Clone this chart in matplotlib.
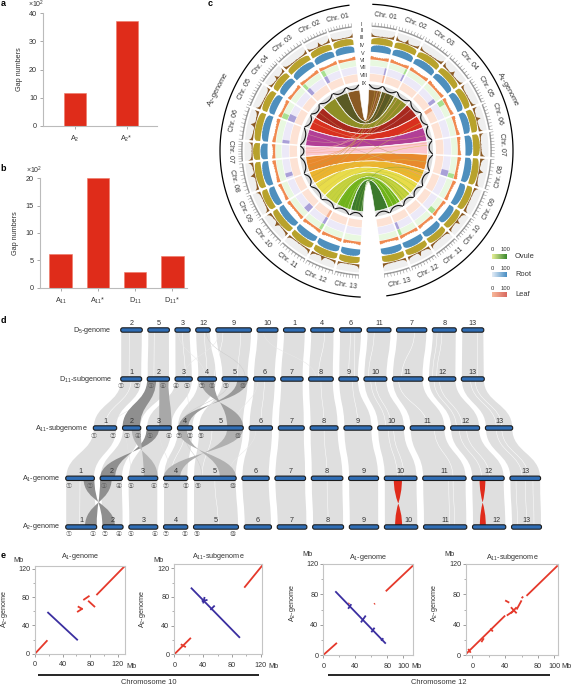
import math
import matplotlib
matplotlib.use('Agg')
import matplotlib.pyplot as plt
import numpy as np
from matplotlib.colors import LinearSegmentedColormap
from matplotlib.patches import FancyBboxPatch, PathPatch, Polygon
from matplotlib.path import Path

plt.rcParams['font.family'] = ['Liberation Sans', 'DejaVu Sans']
plt.rcParams['mathtext.fontset'] = 'custom'
plt.rcParams['mathtext.rm'] = 'Liberation Sans'
plt.rcParams['mathtext.default'] = 'regular'

W, H = 572, 685
TEXT = '#333333'
FS = 5.2

# panels a and b
a_labels = ['A$_{2}$', 'A$_{2}$*']
a_values = [11.7, 37.2]
b_labels = ['A$_{11}$', 'A$_{11}$*', 'D$_{11}$', 'D$_{11}$*']
b_values = [6.2, 20.0, 2.9, 5.8]

# panel c, chromosome spans in degrees, gap included
right_spans = [12.5, 13, 14, 14, 12.3, 13.2, 12.5, 15, 14, 12, 12, 13, 13]
left_spans = [11.8, 12.7, 14.5, 11.6, 12.5, 16, 10, 15, 12, 14.7, 13.9, 14, 12]
chrom_names = ['Chr. %02d' % i for i in range(1, 14)]
ring_names = ['I', 'II', 'III', 'IV', 'V', 'VI', 'VII', 'VIII', 'IX']
ribbon_colors = ['#8a5a24', '#5a5a25', '#8e8e26', '#a8281e', '#d9301f', '#b23f96', '#fcc8d0',
                 '#e88a2c', '#ecb42e', '#e8dc4a', '#c6d23e', '#6fb31a', '#3c7a2c']
olive_profile = [.62, .75, .82, .86, .88, .9, .92, .95, .96, .97, .95, .98, .97, .96, .98, .95, .93, .94, .9, .89, .87, .84, .76, .6]
blue_profile = [.6, .72, .8, .84, .88, .88, .93, .9, .96, .94, .97, .93, .98, .95, .92, .96, .93, .9, .91, .87, .85, .8, .72, .58]
brown_a = [.55, .3, .22, .16, .13, .12, .1, .12, .1, .08, .1, .14, .1, .09, .12, .1, .15, .12, .14, .18, .2, .25, .35, .6]
brown_b = [.6, .35, .24, .18, .13, .16, .12, .1, .08, .12, .3, .6, .25, .1, .08, .1, .12, .1, .13, .16, .18, .22, .3, .5]
orange_profile = [.5, .7, .6, .65, .5, .45, .55, .4, .5, .45, .35, .5, .4, .45, .35, .5, .4, .45, .55, .5, .6, .55, .7, .5]
wave_profile = [1.0, .7, .4, .2, .1, .05, .05, .1, .2, .4, .7, 1.0]
heat_spots = [('R', 4, 'green', 0, .3), ('R', 4, 'peach', 0, .25), ('R', 3, 'lav', .8, 1), ('R', 1, 'green', .9, 1),
              ('R', 1, 'lav', .9, 1), ('R', 0, 'lav', .9, 1), ('R', 0, 'peach', .9, 1), ('R', 7, 'lav', .7, 1),
              ('R', 7, 'green', .8, 1), ('R', 9, 'green', .7, 1), ('R', 11, 'lav', .85, 1), ('R', 11, 'green', .85, 1),
              ('L', 1, 'green', .8, 1), ('L', 1, 'lav', .8, 1), ('L', 2, 'green', .85, 1), ('L', 2, 'lav', .8, 1),
              ('L', 4, 'green', .7, 1), ('L', 4, 'lav', .6, 1), ('L', 5, 'lav', .85, 1), ('L', 7, 'lav', .7, .9),
              ('L', 9, 'lav', .7, 1), ('L', 10, 'lav', .85, 1), ('L', 10, 'peach', .85, 1), ('L', 10, 'green', .85, 1)]
chord_links = [(7, .5, 1, .3, '#e8a060'), (7, .2, 2, .6, '#e8a060'), (6, .5, 0, .7, '#f2b0a0'), (6, .2, 2, .2, '#f2b0a0'),
               (7, .8, 0, .9, '#b8a050'), (8, .4, 0, .5, '#c0a040'), (8, .7, 1, .8, '#c8b050'), (9, .3, 4, .6, '#c8b850'),
               (3, .5, 7, .5, '#c09060'), (4, .4, 5, .6, '#e0a080'), (5, .3, 8, .4, '#d0a0a0'), (5, .7, 3, .4, '#d0a0a0'),
               (10, .2, 8, .6, '#b8c840'), (10, .5, 9, .3, '#b8c840'), (10, .8, 10, .5, '#a0c030'), (11, .1, 9, .8, '#90b830'),
               (11, .5, 10, .1, '#90b830'), (11, .8, 11, .6, '#d8e0a0'), (12, .3, 10, .8, '#6aa030'), (12, .6, 8, .2, '#7aa838'),
               (12, .9, 11, .2, '#d8e8b0'), (9, .7, 7, .5, '#d8c850'), (9, .2, 6, .3, '#d8c850'), (6, .7, 6, .1, '#f0a880')]

# panel d, chromosome sizes in each row
d5_names = ['2', '5', '3', '12', '9', '10', '1', '4', '6', '11', '7', '8', '13']
d5_sizes = [21.6, 21.6, 15.3, 14.6, 35.7, 21, 21.7, 23.3, 22, 24, 30.3, 24, 22]
d11_names = [str(i) for i in range(1, 14)]
d11_sizes = [21, 22.3, 17.3, 18.7, 26, 21.7, 22.4, 24.7, 19.6, 23, 30.6, 27.3, 23]
a11_names = d11_names
a11_sizes = [23.4, 18.3, 25, 15.4, 44.7, 23.4, 26, 28, 28, 26.7, 34.6, 29, 27.3]
a1_names = d11_names
a1_sizes = [28.7, 22.3, 29.7, 24.3, 42.7, 27.3, 30.7, 31.6, 30, 32.7, 43.4, 32.4, 30.7]
a2_names = d11_names
a2_sizes = [31, 20.7, 29, 24.3, 45, 27.3, 29.7, 31, 29.4, 33.4, 43.3, 33.3, 30]
row_titles = ['D$_{5}$-genome', 'D$_{11}$-subgenome', 'A$_{11}$-subgenome', 'A$_{1}$-genome', 'A$_{2}$-genome']
circled = '①②③④⑤⑥⑦⑧⑨⑩'
# circled block numbers: which block, at which pixel column
d11_blocks = [(1, 121.3), (2, 137), (3, 150.7), (6, 163.3), (4, 176.3), (5, 187), (7, 201.7), (8, 211.7), (9, 225.7), (10, 243.3)]
a11_blocks = [(1, 94.3), (2, 112.7), (3, 126.7), (4, 138), (5, 149.7), (6, 169), (7, 179), (8, 190.3), (9, 201), (10, 238)]
a1_blocks = [(1, 69.3), (2, 89.7), (3, 103.7), (4, 119), (5, 130.7), (6, 154.3), (7, 165.7), (8, 186), (9, 197.7), (10, 232.7)]
a2_blocks = [(1, 69.3), (3, 93), (2, 105), (4, 119), (5, 130.7), (6, 154.7), (7, 165.7), (8, 185.3), (9, 196.7), (10, 233.3)]
# upper row, upper chrom, upper from/to, lower chrom, lower from/to, twisted
dark_links = [(1, 1, 0, .4, 1, 0, .95, False), (1, 1, .55, .95, 2, .5, 1, False), (1, 3, .14, .86, 4, .64, 1, True), (1, 4, .59, 1, 3, .07, .7, True),
              (2, 2, 0, .5, 1, 0, .67, True), (2, 1, .5, 1, 2, .53, 1, True), (2, 3, 0, .6, 4, .62, 1, True), (2, 4, .64, 1, 3, 0, .68, True),
              (3, 0, .62, 1, 1, 0, .61, True), (3, 1, 0, .52, 0, .62, 1, True)]
dark_link_grays = ['#8f8f8f', '#a8a8a8', '#a0a0a0', '#9a9a9a', '#8f8f8f', '#b4b4b4', '#b0b0b0', '#b0b0b0', '#8f8f8f', '#8f8f8f']
red_links = [(3, 9, .29, .54, 9, .32, .53), (3, 11, .24, .42, 11, .22, .4)]
# thin lines inside the ribbons: upper row, upper chrom, upper frac, lower chrom, lower frac, colour
slit_lines = [(0, 0, .4, 0, .4, 'w'), (0, 1, .3, 1, .3, 'w'), (0, 2, .5, 2, .6, 'w'), (0, 3, .6, 3, .5, 'w'), (0, 4, .7, 4, .6, 'w'),
              (0, 4, .2, 3, .9, 'w'), (0, 7, .6, 7, .4, 'w'), (0, 8, .5, 8, .5, 'w'), (0, 8, .7, 8, .8, 'w'), (0, 9, .3, 9, .2, 'w'),
              (0, 10, .6, 10, .3, 'w'), (0, 11, .2, 11, .15, 'w'), (0, 11, .4, 11, .3, 'w'), (0, 12, .7, 12, .7, 'w'),
              (1, 7, .5, 7, .5, 'w'), (1, 8, .7, 8, .5, 'w'), (1, 9, .3, 9, .3, 'w'), (1, 9, .5, 9, .5, 'w'), (1, 10, .2, 10, .5, 'w'),
              (1, 11, .2, 11, .2, 'w'), (1, 11, .4, 11, .4, 'w'), (1, 12, .4, 12, .4, 'w'), (1, 12, .6, 12, .6, 'w'),
              (1, 0, .5, 0, .5, 'w'), (1, 5, .5, 5, .5, 'w'),
              (2, 7, .5, 7, .5, 'w'), (2, 9, .4, 9, .4, 'w'), (2, 9, .6, 9, .6, 'w'), (2, 10, .7, 10, .7, 'w'), (2, 11, .3, 11, .3, 'w'),
              (2, 11, .55, 11, .55, 'w'), (2, 12, .4, 12, .4, 'w'), (2, 12, .6, 12, .6, 'w'), (2, 3, .5, 3, .3, 'w'), (2, 4, .3, 4, .2, 'w'),
              (3, 0, .5, 0, .45, 'w'), (3, 7, .5, 7, .5, 'w'), (3, 10, .6, 10, .6, 'w'), (3, 10, .7, 10, .72, 'w'), (3, 12, .2, 12, .2, 'w'),
              (3, 12, .5, 12, .5, 'w'), (3, 12, .75, 12, .75, 'w'), (3, 4, .5, 4, .55, 'w'),
              (0, 3, .7, 4, .9, '#cccccc'), (0, 4, .1, 2, .5, '#e8e8e8'), (0, 2, .2, 3, .4, '#e8e8e8'), (0, 5, .3, 7, .3, '#e8e8e8'),
              (1, 2, .5, 0, .8, '#e4e4e4'), (1, 2, .7, 3, .8, '#e4e4e4'), (1, 5, .2, 4, .8, '#e8e8e8'), (1, 4, .3, 3, .2, '#cccccc'),
              (2, 1, .2, 2, .1, '#e4e4e4'), (2, 2, .5, 3, .3, '#e4e4e4'), (2, 3, .4, 4, .2, '#cccccc'), (2, 5, .3, 4, .8, '#e8e8e8')]

# panel e, collinear segments as (x0, y0, x1, y1) in Mb
e1_red = [(0, 0, 18, 19), (61, 59, 69, 64), (62, 67, 69, 63), (70, 76, 79, 82), (77, 75, 87, 66), (89, 83, 130, 124)]
e1_blue = [(18, 59, 62, 19)]
e2_red = [(0, 0, 23, 23), (9, 14, 16, 10), (97, 93, 122, 124)]
e2_blue = [(23, 93, 91, 23), (40, 71, 42, 80), (38, 74, 46, 76), (50, 62, 56, 68)]
e3_red = [(0, 0, 17, 16), (78, 84, 112, 118), (63.5, 67, 64.5, 68), (31.5, 67.5, 32.5, 68.5)]
e3_blue = [(15, 84, 78, 15), (31, 61, 35, 67), (47, 43, 53, 52), (60, 30, 64, 36), (72, 19, 75, 22)]
e4_red = [(-9, 0, 40, 52), (47, 55, 54, 63), (47, 63, 54, 55), (42, 52, 50, 58), (54, 60, 60, 72), (40, 72, 45, 69),
          (66, 78, 104, 118), (-5, 8, -2, 3), (11, 17, 14, 22), (22, 35, 25, 31), (60, 75, 62, 77)]
e4_blue = []


def px_axes(fig, x0, y0, x1, y1):
    return fig.add_axes([x0 / W, 1 - y1 / H, (x1 - x0) / W, (y1 - y0) / H])


def bar_panel(fig, box, labels, values, width, xlim, ymax, step):
    ax = px_axes(fig, *box)
    ax.bar(range(len(values)), values, width=width, color='#df2c1a', edgecolor='#ee7766', linewidth=0.4)
    ax.set_xlim(*xlim)
    ax.set_ylim(0, ymax)
    ax.set_xticks(range(len(values)))
    ax.set_xticklabels(labels)
    ax.set_yticks(range(0, ymax + 1, step))
    ax.tick_params(labelsize=FS, length=2, width=0.5, color='#888888', labelcolor=TEXT, pad=2.5)
    ax.tick_params(axis='x', pad=3.5)
    ax.set_ylabel('Gap numbers', fontsize=FS, color=TEXT, labelpad=4.5)
    for s in ['top', 'right']:
        ax.spines[s].set_visible(False)
    for s in ['left', 'bottom']:
        ax.spines[s].set_color('#bbbbbb')
        ax.spines[s].set_linewidth(0.8)
    return ax


def dot_panel(fig, box, xlim, ylim, xticks, red, blue):
    ax = px_axes(fig, *box)
    for x0, y0, x1, y1 in red:
        ax.plot([x0, x1], [y0, y1], color='#e5392b', lw=1.3, solid_capstyle='butt')
    for x0, y0, x1, y1 in blue:
        ax.plot([x0, x1], [y0, y1], color='#3b2fa0', lw=1.3, solid_capstyle='butt')
    ax.set_xlim(*xlim)
    ax.set_ylim(*ylim)
    ax.set_xticks(xticks)
    ax.set_yticks([0, 40, 80, 120])
    ax.set_xticks([t + 20 for t in xticks[:-1]], minor=True)
    ax.set_yticks([20, 60, 100], minor=True)
    ax.tick_params(labelsize=FS, length=2, width=0.5, color='#777777', labelcolor=TEXT, pad=1.5)
    ax.tick_params(axis='x', pad=3.5)
    ax.tick_params(which='minor', length=1.2, width=0.4, color='#777777')
    for s in ax.spines.values():
        s.set_color('#c4c4c4')
        s.set_linewidth(0.8)
    return ax


def pol(r, deg):
    t = math.radians(deg)
    return CX + r * math.sin(t), CY - r * math.cos(t)


def band(ax, r0, r1, a0, a1, color, z=2):
    angs = np.linspace(a0, a1, 30)
    pts = [pol(r1, t) for t in angs] + [pol(r0, t) for t in angs[::-1]]
    ax.add_patch(Polygon(pts, closed=True, fc=color, ec='none', zorder=z))


def profile_band(ax, r0, depth, a0, a1, prof, color, z=3):
    angs = np.linspace(a0, a1, len(prof))
    pts = [pol(r0 + depth * p, t) for p, t in zip(prof, angs)]
    pts += [pol(r0, t) for t in angs[::-1]]
    ax.add_patch(Polygon(pts, closed=True, fc=color, ec='none', zorder=z))


def spans(start, widths, sign, gap=1.2):
    out = []
    pos = start
    for w in widths:
        out.append((pos, pos + sign * (w - gap)))
        pos += sign * w
    return out


def tangent_rot(deg):
    rot = -deg
    if 90 < deg % 360 < 270:
        rot += 180
    return rot


CX, CY = 366.5, 150.7
R_RIB = 61.0
rings = {'gray': (114, 122), 'olive': (106.7, 113.7), 'blue': (99, 106.7), 'orange': (91.3, 97),
         'green': (85, 90.8), 'lav': (77.5, 84.5), 'peach': (69.5, 77), 'wave': (61.5, 66.5)}
ring_fill = {'green': '#e8f8e0', 'lav': '#ece9f8', 'peach': '#fde2d4', 'gray': '#efefef', 'wave': '#dcdcdc'}
spot_fill = {'green': '#a8e090', 'lav': '#a9a0d8', 'peach': '#f6b090'}


def circos(ax):
    right = spans(2.5, right_spans, 1)
    left = spans(-6.9, left_spans, -1)
    for side, sp in [('R', right), ('L', left)]:
        for i, (a0, a1) in enumerate(sp):
            for key in ring_fill:
                band(ax, rings[key][0], rings[key][1], a0, a1, ring_fill[key])
            prof = brown_a if i % 2 == 0 else brown_b
            profile_band(ax, 114, 8, a0, a1, prof, '#8b5a24')
            profile_band(ax, 106.7, 7, a0, a1, olive_profile, '#b8a22c')
            profile_band(ax, 99, 7.4, a0, a1, blue_profile, '#4e8fbd')
            profile_band(ax, 91.3, 5.4, a0, a1, orange_profile, '#f08a50')
            # position track
            angs = np.linspace(a0, a1, 30)
            ax.plot(*zip(*[pol(124.6, t) for t in angs]), color='#999999', lw=1.0, zorder=3, solid_capstyle='butt')
            for t in np.linspace(a0, a1, 9):
                ax.plot(*zip(pol(124.6, t), pol(128, t)), color='#888888', lw=0.35, zorder=3)
            # wavy black contour on the grey ring
            w_angs = np.linspace(a0, a1, len(wave_profile))
            ax.plot(*zip(*[pol(62.5 + 3.5 * p, t) for p, t in zip(wave_profile, w_angs)]), color='#111111', lw=0.8, zorder=4)
            mid = (a0 + a1) / 2
            x, y = pol(136, mid)
            ax.text(x, y, chrom_names[i], fontsize=5.0, color=TEXT, ha='center', va='center',
                    rotation=tangent_rot(mid), rotation_mode='anchor', zorder=5)
    for side, i, key, f0, f1 in heat_spots:
        a0, a1 = (right if side == 'R' else left)[i]
        band(ax, rings[key][0], rings[key][1], a0 + (a1 - a0) * f0, a0 + (a1 - a0) * f1, spot_fill[key], z=3)
    # ribbons, quadratic through the centre, nearly touching at the rim
    for i in range(13):
        la0, la1 = left[i][0] + 0.4, left[i][1] - 0.4
        ra0, ra1 = right[i][0] - 0.4, right[i][1] + 0.4
        verts = [pol(R_RIB, t) for t in np.linspace(la1, la0, 14)]
        codes = [Path.MOVETO] + [Path.LINETO] * 13
        verts += [(CX, CY), pol(R_RIB, ra0)]
        codes += [Path.CURVE3, Path.CURVE3]
        verts += [pol(R_RIB, t) for t in np.linspace(ra0, ra1, 14)[1:]]
        codes += [Path.LINETO] * 13
        verts += [(CX, CY), pol(R_RIB, la1)]
        codes += [Path.CURVE3, Path.CURVE3]
        ax.add_patch(PathPatch(Path(verts, codes), fc=ribbon_colors[i], ec='white', lw=0.4, zorder=2))
    for li, lf, ri, rf, col in chord_links:
        p0 = pol(R_RIB, left[li][0] + (left[li][1] - left[li][0]) * lf)
        p1 = pol(R_RIB, right[ri][0] + (right[ri][1] - right[ri][0]) * rf)
        path = Path([p0, (CX, CY), p1], [Path.MOVETO, Path.CURVE3, Path.CURVE3])
        ax.add_patch(PathPatch(path, fc='none', ec=col, lw=0.35, alpha=0.8, zorder=3))
    # outer arcs, genome names
    ax.plot(*zip(*[pol(146.5, t) for t in np.linspace(2.5, 172, 120)]), color='k', lw=0.9, zorder=5)
    ax.plot(*zip(*[pol(146.5, t) for t in np.linspace(-6.9, -177.5, 120)]), color='k', lw=0.9, zorder=5)
    ax.text(508, 89, 'A$_{1}$-genome', fontsize=FS, color=TEXT, rotation=-62, ha='center', va='center', rotation_mode='anchor')
    ax.text(218, 90, 'A$_{2}$-genome', fontsize=FS, color=TEXT, rotation=62, ha='center', va='center', rotation_mode='anchor')
    ring_r = [126.7, 120.7, 113, 105, 97.4, 90.4, 83, 75, 67]
    for name, r in zip(ring_names, ring_r):
        x, y = pol(r, -2.2)
        ax.text(x, y, name, fontsize=4.0, color=TEXT, ha='center', va='center', zorder=6)


def legend_bar(ax, y, label, colors):
    cmap = LinearSegmentedColormap.from_list(label, colors)
    ax.imshow(np.linspace(0, 1, 40)[None, :], cmap=cmap, extent=(492.3, 507.3, y + 4.4, y), aspect='auto', zorder=3)
    ax.text(492.8, y - 4.6, '0', fontsize=4.2, color=TEXT, ha='center', va='center')
    ax.text(505.5, y - 4.6, '100', fontsize=4.2, color=TEXT, ha='center', va='center')
    ax.text(515, y + 2, label, fontsize=5.4, color=TEXT, ha='left', va='center')


def layout_row(start, sizes, gap):
    out = []
    pos = start
    for s in sizes:
        out.append((pos, pos + s))
        pos += s + gap
    return out


def s_ribbon(ax, a0, a1, y0, b0, b1, y1, color, z=1):
    ym = (y0 + y1) / 2
    verts = [(a0, y0), (a0, ym), (b0, ym), (b0, y1), (b1, y1), (b1, ym), (a1, ym), (a1, y0), (a0, y0)]
    codes = [Path.MOVETO] + [Path.CURVE4] * 3 + [Path.LINETO] + [Path.CURVE4] * 3 + [Path.CLOSEPOLY]
    ax.add_patch(PathPatch(Path(verts, codes), fc=color, ec='none', lw=0, zorder=z))


def s_line(ax, a, y0, b, y1, color, lw, z):
    ym = (y0 + y1) / 2
    path = Path([(a, y0), (a, ym), (b, ym), (b, y1)], [Path.MOVETO] + [Path.CURVE4] * 3)
    ax.add_patch(PathPatch(path, fc='none', ec=color, lw=lw, zorder=z))


def synteny(ax):
    ys = [330, 379, 428, 478.3, 527]
    starts = [120.7, 120.7, 93.3, 65.7, 65.7]
    gaps = [5.5, 5.5, 5.8, 5.7, 5.7]
    all_sizes = [d5_sizes, d11_sizes, a11_sizes, a1_sizes, a2_sizes]
    all_names = [d5_names, d11_names, a11_names, a1_names, a2_names]
    rows = [layout_row(st, sz, g) for st, sz, g in zip(starts, all_sizes, gaps)]
    for r in range(4):
        for up, lo in zip(rows[r], rows[r + 1]):
            s_ribbon(ax, up[0] + 0.5, up[1] - 0.5, ys[r], lo[0] + 0.5, lo[1] - 0.5, ys[r + 1], '#dfdfdf')
    # thin lines
    for r, ui, uf, li, lf, col in slit_lines:
        ua, ub = rows[r][ui]
        la, lb = rows[r + 1][li]
        s_line(ax, ua + (ub - ua) * uf, ys[r], la + (lb - la) * lf, ys[r + 1], col, 0.35, 2)
    for (r, ui, uf0, uf1, li, lf0, lf1, twisted), col in zip(dark_links, dark_link_grays):
        ua, ub = rows[r][ui]
        la, lb = rows[r + 1][li]
        if twisted:
            lf0, lf1 = lf1, lf0
        s_ribbon(ax, ua + (ub - ua) * uf0, ua + (ub - ua) * uf1, ys[r],
                 la + (lb - la) * lf0, la + (lb - la) * lf1, ys[r + 1], col, z=3)
    for r, ui, uf0, uf1, li, lf0, lf1 in red_links:
        ua, ub = rows[r][ui]
        la, lb = rows[r + 1][li]
        # inverted block, the two edges cross halfway
        s_ribbon(ax, ua + (ub - ua) * uf0, ua + (ub - ua) * uf1, ys[r],
                 la + (lb - la) * lf1, la + (lb - la) * lf0, ys[r + 1], '#e02b1b', z=3)
    for r, row in enumerate(rows):
        for j, (a, b) in enumerate(row):
            ax.add_patch(FancyBboxPatch((a, ys[r] - 2.2), b - a, 4.4, boxstyle='round,pad=0,rounding_size=2',
                                        fc='#2f6db5', ec='#1c1c1c', lw=0.8, zorder=5))
            dx = 7 if r == 4 and all_names[r][j] in ('10', '12') else 0
            ax.text((a + b) / 2 + dx, ys[r] - 6.5, all_names[r][j], fontsize=FS, color=TEXT, ha='center', va='center', zorder=6)
    title_x = [112, 112, 87.7, 60, 60]
    for t, x, y in zip(row_titles, title_x, ys):
        ax.text(x, y, t, fontsize=FS, color=TEXT, ha='right', va='center')
    for blocks, y in zip([d11_blocks, a11_blocks, a1_blocks, a2_blocks], [386, 435.5, 486, 534.5]):
        for n, x in blocks:
            ax.text(x, y, circled[n - 1], fontsize=4.4, color='#666666', ha='center', va='center',
                    family=['Noto Sans CJK JP', 'DejaVu Sans'], zorder=6)


def main():
    fig = plt.figure(figsize=(W / 100, H / 100), dpi=100)
    overlay = fig.add_axes([0, 0, 1, 1])
    overlay.set_axis_off()

    bar_panel(fig, (43.3, 13.3, 157, 125.7), a_labels, a_values, 0.43, (-0.607, 1.584), 40, 10)
    bar_panel(fig, (40, 178.3, 186.7, 287.7), b_labels, b_values, 0.61, (-0.556, 3.387), 20, 5)

    legend_bar(overlay, 254.3, 'Ovule', ['#e6ee96', '#3c8a30'])
    legend_bar(overlay, 272.7, 'Root', ['#e2ecf6', '#4a8fc4'])
    legend_bar(overlay, 292.7, 'Leaf', ['#f7b89a', '#d96a60'])
    overlay.set_xlim(0, W)
    overlay.set_ylim(H, 0)

    circos(overlay)
    synteny(overlay)

    dot_panel(fig, (35, 565.7, 124.7, 653.7), (0, 130), (0, 124.6), [0, 40, 80, 120], e1_red, e1_blue)
    dot_panel(fig, (174.3, 564.3, 262.3, 654.3), (0, 122), (0, 125.6), [0, 40, 80, 120], e2_red, e2_blue)
    dot_panel(fig, (323.3, 564, 413, 655), (0, 112), (0, 118), [0, 40, 80, 100], e3_red, e3_blue)
    dot_panel(fig, (466, 564, 557.7, 655), (-7.7, 104), (0, 118), [0, 40, 80, 100], e4_red, e4_blue)

    for x, y, t in [(80, 557, 'A$_{1}$-genome'), (218, 557, 'A$_{11}$-subgenome'),
                    (368, 557.5, 'A$_{1}$-genome'), (512, 557.5, 'A$_{11}$-subgenome')]:
        overlay.text(x, y, t, fontsize=FS, color=TEXT, ha='center', va='center')
    for x, y in [(18, 560), (158, 560), (307, 555), (449, 555)]:
        overlay.text(x, y, 'Mb', fontsize=FS, color=TEXT, ha='center', va='center')
    for x in [136.7, 278.3, 422, 571.5]:
        overlay.text(x, 666.3, 'Mb', fontsize=FS, color=TEXT, ha='right', va='center')
    for x, y in [(4, 609), (143, 609), (292, 603), (435, 603)]:
        overlay.text(x, y, 'A$_{2}$-genome', fontsize=FS, color=TEXT, rotation=90, ha='center', va='center')
    for x0, x1, xt, t in [(38, 259, 149, 'Chromosome 10'), (328, 550, 439, 'Chromosome 12')]:
        overlay.plot([x0, x1], [675, 675], color='k', lw=1.2, solid_capstyle='butt')
        overlay.text(xt, 682, t, fontsize=5.4, color=TEXT, ha='center', va='center')

    overlay.text(28, 4.5, r'×10$^{2}$', fontsize=5.0, color=TEXT, ha='left', va='center')
    overlay.text(26.5, 170, r'×10$^{2}$', fontsize=5.0, color=TEXT, ha='left', va='center')
    for x, y, t in [(0.5, 3.5, 'a'), (0.5, 168, 'b'), (208, 3.5, 'c'), (0.5, 320, 'd'), (0.5, 555, 'e')]:
        overlay.text(x, y, t, fontsize=6.5, fontweight='bold', color='k', ha='left', va='center')

    fig.savefig('out.png', dpi=100)


if __name__ == '__main__':
    main()
